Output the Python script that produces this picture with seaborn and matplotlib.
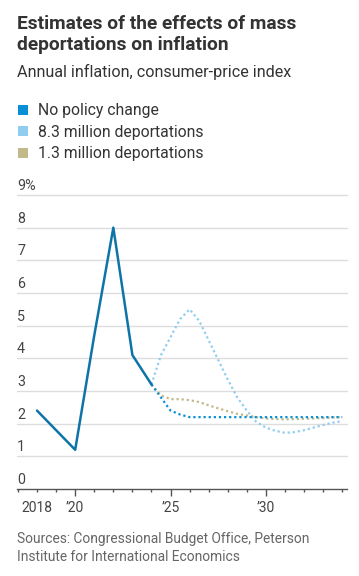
import matplotlib
matplotlib.use("Agg")
import matplotlib.pyplot as plt
from matplotlib.lines import Line2D
from matplotlib.ticker import MultipleLocator
import pandas as pd
import seaborn as sns

# --- Data ---
hist_years = [2018, 2019, 2020, 2021, 2022, 2023, 2024]
hist_values = [2.4, 1.8, 1.2, 4.7, 8.0, 4.1, 3.2]

proj_years = [2024, 2024.5, 2025, 2025.5, 2026, 2026.5, 2027, 2027.5, 2028, 2028.5,
              2029, 2029.5, 2030, 2030.5, 2031, 2031.5, 2032, 2032.5, 2033, 2033.5, 2034]
no_change = [3.2, 2.8, 2.4, 2.28, 2.2, 2.2, 2.2, 2.2, 2.2, 2.2,
             2.2, 2.2, 2.2, 2.2, 2.2, 2.2, 2.2, 2.2, 2.2, 2.2, 2.2]
deport_8_3 = [3.2, 4.1, 4.65, 5.2, 5.5, 5.15, 4.55, 3.95, 3.35, 2.8,
              2.4, 2.05, 1.88, 1.78, 1.72, 1.74, 1.8, 1.88, 1.96, 2.03, 2.08]
deport_1_3 = [3.2, 2.87, 2.75, 2.75, 2.72, 2.66, 2.56, 2.47, 2.38, 2.3,
              2.25, 2.2, 2.16, 2.14, 2.13, 2.14, 2.15, 2.16, 2.17, 2.19, 2.2]

series_names = ["No policy change", "8.3 million deportations", "1.3 million deportations"]
y_ticks = list(range(0, 10))
x_major = [2018, 2020, 2025, 2030]
x_major_labels = ["2018", "\u201920", "\u201925", "\u201930"]

colors = {
    "No policy change": "#0a8fd6",
    "8.3 million deportations": "#91cdef",
    "1.3 million deportations": "#c1b98a",
}
hist_color = "#0e74a8"

proj = pd.DataFrame({
    "year": proj_years * 3,
    "value": no_change + deport_8_3 + deport_1_3,
    "series": [series_names[0]] * len(proj_years)
              + [series_names[1]] * len(proj_years)
              + [series_names[2]] * len(proj_years),
})
hist = pd.DataFrame({"year": hist_years, "value": hist_values})

sns.set_theme(style="white")
plt.rcParams["font.family"] = ["Roboto", "DejaVu Sans"]

fig = plt.figure(figsize=(3.59, 5.76), dpi=100)
ax = fig.add_axes([17 / 359, 1 - 489 / 576, 330 / 359, 294 / 576])

dots = (0, (1, 1.3))
for name in [series_names[1], series_names[2], series_names[0]]:
    sub = proj[proj["series"] == name]
    sns.lineplot(data=sub, x="year", y="value", ax=ax, color=colors[name],
                 linewidth=1.6, linestyle=dots, legend=False)
sns.lineplot(data=hist, x="year", y="value", ax=ax, color=hist_color,
             linewidth=1.8, legend=False)

ax.set_xlim(2016.95, 2034.25)
ax.set_ylim(0, 9)
ax.set_xlabel("")
ax.set_ylabel("")

# grid
for v in y_ticks[1:]:
    ax.axhline(v, color="#dddddd", linewidth=1, zorder=0, clip_on=False)
for s in ["top", "right", "left"]:
    ax.spines[s].set_visible(False)
ax.spines["bottom"].set_color("#555555")
ax.spines["bottom"].set_linewidth(1)

ax.set_yticks([])
for v in y_ticks:
    lab = f"{v}%" if v == 9 else str(v)
    ax.text(0, v + 0.06, lab, transform=ax.get_yaxis_transform(), ha="left", va="bottom",
            fontsize=10.3, color="#444444")

ax.set_xticks([2020, 2025, 2030])
ax.set_xticklabels([])
ax.xaxis.set_minor_locator(MultipleLocator(1))
ax.tick_params(axis="x", which="major", length=5, width=1, color="#555555", direction="out")
ax.tick_params(axis="x", which="minor", length=2.5, width=1, color="#555555", direction="out")
ax.tick_params(axis="x", which="both", bottom=True)
for xv, lab in zip(x_major, x_major_labels):
    ax.text(xv, -0.36, lab, ha="center", va="top", fontsize=10, color="#444444")

# titles
fig.text(17 / 359, 1 - 15 / 576, "Estimates of the effects of mass\ndeportations on inflation",
         ha="left", va="top", fontsize=13.8, fontweight="bold", color="#333333", linespacing=1.2)
fig.text(17 / 359, 1 - 72 / 576, "Annual inflation, consumer-price index",
         ha="left", va="center", fontsize=11.6, color="#333333")

handles = [Line2D([], [], marker="s", linestyle="none", markersize=7.5,
                  markerfacecolor=colors[n], markeredgewidth=0) for n in series_names]
fig.legend(handles, series_names, loc="upper left", bbox_to_anchor=(10 / 359, 1 - 97 / 576),
           frameon=False, fontsize=11.3, handlelength=0.8, handletextpad=0.6,
           labelspacing=0.42, borderaxespad=0, labelcolor="#333333")

fig.text(17 / 359, 1 - 532 / 576,
         "Sources: Congressional Budget Office, Peterson\nInstitute for International Economics",
         ha="left", va="top", fontsize=9.95, color="#666666", linespacing=1.4)

fig.savefig("out.png", dpi=100)
